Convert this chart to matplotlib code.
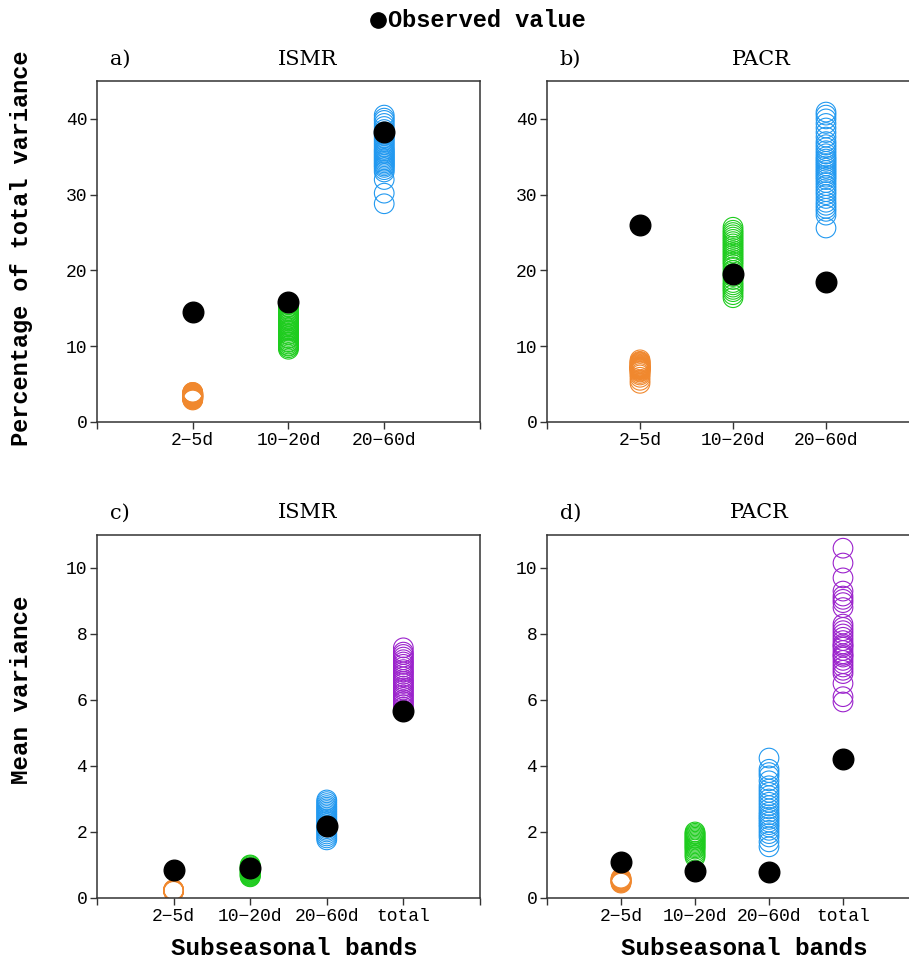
import matplotlib
matplotlib.use("Agg")
import matplotlib.pyplot as plt
from matplotlib.lines import Line2D

# percentage of total variance, ensemble members
a_2_5 = [2.9, 3.0, 3.0, 3.1, 3.1, 3.2, 3.2, 3.2, 3.3, 3.3, 3.3, 3.3, 3.4, 3.4, 3.4, 3.4,
         3.5, 3.5, 3.5, 3.5, 3.6, 3.6, 3.6, 3.7, 3.7, 3.7, 3.8, 3.8, 3.9, 3.9]
a_10_20 = [9.6, 9.8, 10.0, 10.1, 10.3, 10.5, 10.6, 10.8, 11.0, 11.1, 11.3, 11.5, 11.6, 11.8,
           12.0, 12.1, 12.3, 12.5, 12.7, 12.9, 13.1, 13.3, 13.5, 13.7, 13.9, 14.1, 14.3,
           14.6, 14.9, 15.2, 15.5]
a_20_60 = [28.8, 30.2, 32.0, 33.0, 33.3, 33.6, 33.8, 34.0, 34.2, 34.4, 34.6, 34.8, 35.0,
           35.2, 35.4, 35.6, 35.8, 36.0, 36.3, 36.6, 36.9, 37.2, 37.5, 37.8, 38.0, 38.3,
           38.6, 39.0, 39.4, 39.8, 40.1, 40.5]
a_obs = [14.5, 15.9, 38.3]

b_2_5 = [5.1, 5.5, 5.9, 6.2, 6.4, 6.6, 6.7, 6.8, 6.9, 7.0, 7.0, 7.1, 7.1, 7.2, 7.2, 7.3,
         7.3, 7.4, 7.5, 7.6, 7.7, 7.8, 7.9, 8.0, 8.2]
b_10_20 = [16.4, 16.8, 17.2, 17.5, 17.8, 18.1, 18.4, 18.8, 19.2, 19.6, 20.0, 20.4, 20.8,
           21.1, 21.4, 21.7, 22.0, 22.3, 22.6, 22.9, 23.2, 23.5, 23.8, 24.1, 24.4, 24.7,
           25.0, 25.3, 25.7]
b_20_60 = [25.6, 27.3, 27.8, 28.2, 28.6, 29.0, 29.5, 30.0, 30.4, 30.8, 31.2, 31.6, 32.0,
           32.3, 32.6, 32.9, 33.2, 33.5, 33.8, 34.1, 34.4, 34.7, 35.0, 35.4, 35.8, 36.2,
           36.6, 37.0, 37.6, 38.2, 38.8, 39.4, 40.0, 40.5, 40.9]
b_obs = [26.0, 19.5, 18.5]

# mean variance
c_2_5 = [0.20, 0.21, 0.22, 0.22, 0.23, 0.23, 0.24, 0.25]
c_10_20 = [0.64, 0.66, 0.68, 0.70, 0.72, 0.74, 0.76, 0.78, 0.80, 0.82, 0.84, 0.86, 0.88,
           0.90, 0.92, 0.95, 0.98, 1.00]
c_20_60 = [1.76, 1.82, 1.88, 1.94, 2.00, 2.05, 2.10, 2.15, 2.20, 2.25, 2.30, 2.35, 2.40,
           2.45, 2.50, 2.55, 2.60, 2.65, 2.70, 2.75, 2.80, 2.86, 2.92, 2.97]
c_total = [5.70, 5.78, 5.86, 5.94, 6.00, 6.08, 6.15, 6.22, 6.30, 6.36, 6.42, 6.50, 6.56,
           6.62, 6.70, 6.78, 6.85, 6.92, 7.00, 7.08, 7.15, 7.22, 7.30, 7.38, 7.45, 7.58]
c_obs = [0.85, 0.90, 2.18, 5.67]

d_2_5 = [0.45, 0.47, 0.49, 0.50, 0.52, 0.54, 0.56, 0.58, 0.60]
d_10_20 = [1.24, 1.30, 1.36, 1.42, 1.48, 1.52, 1.56, 1.60, 1.64, 1.68, 1.72, 1.76, 1.80,
           1.84, 1.88, 1.92, 1.96, 2.00]
d_20_60 = [1.55, 1.70, 1.85, 1.95, 2.05, 2.15, 2.22, 2.30, 2.38, 2.45, 2.52, 2.60, 2.70,
           2.80, 2.90, 3.00, 3.10, 3.20, 3.30, 3.40, 3.55, 3.70, 3.80, 3.90, 4.24]
d_total = [5.94, 6.10, 6.50, 6.80, 6.90, 7.00, 7.10, 7.20, 7.30, 7.35, 7.40, 7.50, 7.60,
           7.65, 7.70, 7.80, 7.90, 8.00, 8.10, 8.20, 8.30, 8.80, 8.95, 9.05, 9.15, 9.30,
           9.70, 10.15, 10.60]
d_obs = [1.09, 0.82, 0.79, 4.21]

bands3 = ["2-5d", "10-20d", "20-60d"]
bands4 = ["2-5d", "10-20d", "20-60d", "total"]
colors = ["#F0882E", "#1ECC1E", "#2299F0", "#9B22CC"]

mono = "Liberation Mono"
serif = "DejaVu Serif"

fig = plt.figure(figsize=(9.09, 9.61), dpi=100)

def panel(rect, members, obs, labels, ylim, yticks, letter, title):
  ax = fig.add_axes(rect)
  n = len(labels)
  for i, vals in enumerate(members):
    ax.scatter([i + 1] * len(vals), vals, s=200, facecolors="none",
               edgecolors=colors[i], linewidths=0.8, zorder=2)
  ax.scatter(range(1, n + 1), obs, s=220, color="black", zorder=3)
  ax.set_xlim(0, n + 1)
  ax.set_ylim(*ylim)
  ax.set_xticks(range(0, n + 2))
  ax.set_xticklabels([""] + [l.replace("-", "\u2212") for l in labels] + [""],
                     fontfamily=mono, fontsize=13)
  ax.set_yticks(yticks)
  ax.set_yticklabels([str(t) for t in yticks], fontfamily=mono, fontsize=13)
  ax.tick_params(direction="out", length=5, width=1, color="#333333", pad=2)
  for s in ax.spines.values():
    s.set_color("#333333")
    s.set_linewidth(1.1)
  ax.text(0.034, 1.035, letter, transform=ax.transAxes, fontfamily=serif,
          fontsize=15, va="bottom", ha="left")
  ax.text(0.55 if n == 3 else 0.55, 1.035, title, transform=ax.transAxes,
          fontfamily=serif, fontsize=15, va="bottom", ha="center")
  return ax

ax_a = panel([0.1067, 0.5609, 0.4213, 0.3548], [a_2_5, a_10_20, a_20_60], a_obs,
             bands3, (0, 45), [0, 10, 20, 30, 40], "a)", "ISMR")
ax_b = panel([0.6018, 0.5609, 0.4092, 0.3548], [b_2_5, b_10_20, b_20_60], b_obs,
             bands3, (0, 45), [0, 10, 20, 30, 40], "b)", "PACR")
ax_b.texts[1].set_x(0.575)
ax_c = panel([0.1067, 0.0656, 0.4213, 0.3777], [c_2_5, c_10_20, c_20_60, c_total], c_obs,
             bands4, (0, 11), [0, 2, 4, 6, 8, 10], "c)", "ISMR")
ax_d = panel([0.6018, 0.0656, 0.4070, 0.3777], [d_2_5, d_10_20, d_20_60, d_total], d_obs,
             bands4, (0, 11), [0, 2, 4, 6, 8, 10], "d)", "PACR")
ax_d.texts[1].set_x(0.575)

fig.text(0.024, 0.742, "Percentage of total variance", rotation=90, ha="center",
         va="center", fontfamily=mono, fontsize=17, fontweight="bold")
fig.text(0.024, 0.282, "Mean variance", rotation=90, ha="center", va="center",
         fontfamily=mono, fontsize=17.5, fontweight="bold")
fig.text(0.3234, 0.0135, "Subseasonal bands", ha="center", va="center",
         fontfamily=mono, fontsize=17.5, fontweight="bold")
fig.text(0.8185, 0.0135, "Subseasonal bands", ha="center", va="center",
         fontfamily=mono, fontsize=17.5, fontweight="bold")

fig.add_artist(Line2D([0.416], [0.979], marker="o", color="black", markersize=11,
                      linestyle="", transform=fig.transFigure))
fig.text(0.4268, 0.979, "Observed value", ha="left", va="center",
         fontfamily=mono, fontsize=17, fontweight="bold")

fig.savefig("out.png", dpi=100)
